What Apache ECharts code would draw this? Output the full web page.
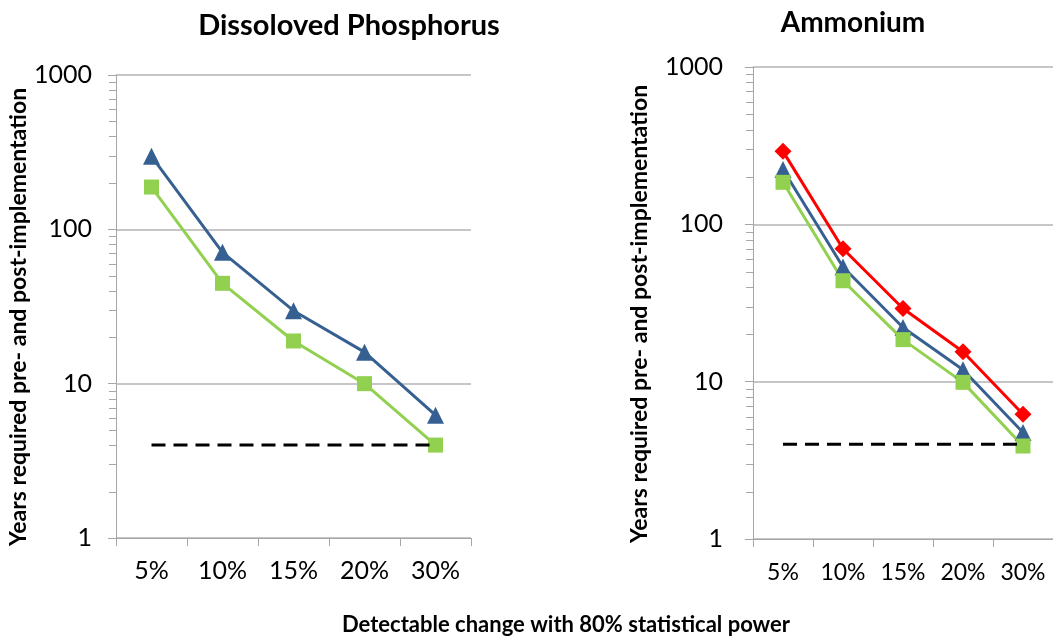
<!DOCTYPE html>
<html>
<head>
<meta charset="utf-8" />
<title>Years required</title>
<script src="https://cdn.jsdelivr.net/npm/echarts@6/dist/echarts.min.js"></script>
<style>
  html, body { margin: 0; padding: 0; background: #fff; }
  #chart { width: 1053px; height: 641px; }
</style>
</head>
<body>
<div id="chart"></div>
<script>
var categories = ['5%', '10%', '15%', '20%', '30%'];

// Dissoloved Phosphorus
var phosBlue = [297, 71, 29.7, 16, 6.25];
var phosGreen = [188, 44.7, 18.9, 10, 4];

// Ammonium
var ammRed = [291, 70, 29.2, 15.5, 6.2];
var ammBlue = [223, 53.6, 22.1, 11.9, 4.75];
var ammGreen = [185, 43.8, 18.5, 9.9, 3.9];

// 4 year reference line
var threshold = [4, 4, 4, 4, 4];

var minorTickValues = [2, 3, 4, 5, 6, 7, 8, 9, 20, 30, 40, 50, 60, 70, 80, 90, 200, 300, 400, 500, 600, 700, 800, 900];

var FONT = 'Lato';
var axisGrey = '#a6a6a6';
var blue = '#376092';
var green = '#92d050';
var red = '#ff0000';
var yTitle = 'Years required pre- and post-implementation';

function xAxisOf(idx, fontSize, margin) {
    return {
        type: 'category', gridIndex: idx, data: categories, boundaryGap: true,
        axisLine: { lineStyle: { color: axisGrey, width: 1 } },
        axisTick: { show: true, length: 8, lineStyle: { color: axisGrey } },
        axisLabel: { color: '#000', fontSize: fontSize, fontFamily: FONT, margin: margin },
        splitLine: { show: false }
    };
}

function yAxisOf(idx, labelMargin) {
    return {
        type: 'log', logBase: 10, gridIndex: idx, min: 1, max: 1000,
        axisLine: { show: true, lineStyle: { color: axisGrey, width: 1 } },
        axisTick: { show: true, length: 8, lineStyle: { color: axisGrey } },
        axisLabel: {
            color: '#000', fontSize: 25, fontFamily: FONT, margin: labelMargin,
            formatter: function (v) { return String(v); }
        },
        splitLine: { show: true, lineStyle: { color: '#b3b3b3', width: 1.5 } },
        minorTick: { show: false }
    };
}

function minorTicks(idx) {
    return {
        type: 'custom', xAxisIndex: idx, yAxisIndex: idx, silent: true, z: 1,
        data: minorTickValues.map(function (v) { return [0, v]; }),
        renderItem: function (params, api) {
            var y = Math.round(api.coord([0, api.value(1)])[1]) + 0.5;
            var x = params.coordSys.x;
            return {
                type: 'line',
                shape: { x1: x - 7, y1: y, x2: x, y2: y },
                style: { stroke: axisGrey, lineWidth: 1 }
            };
        }
    };
}

function lineSeries(idx, data, color, symbol, size, width) {
    return {
        type: 'line', xAxisIndex: idx, yAxisIndex: idx, data: data,
        symbol: symbol, symbolSize: size, showSymbol: true,
        lineStyle: { color: color, width: width },
        itemStyle: { color: color },
        silent: true, animation: false
    };
}

function dashSeries(idx) {
    return {
        type: 'line', xAxisIndex: idx, yAxisIndex: idx, data: threshold,
        symbol: 'none', z: 5,
        lineStyle: { color: '#000', width: 3, type: [14, 8] },
        silent: true, animation: false
    };
}

function textAt(x, y, text, size, rotate) {
    return {
        type: 'text', x: x, y: y, rotation: rotate || 0,
        style: { text: text, fill: '#000', font: 'bold ' + size + 'px ' + FONT, align: 'center', verticalAlign: 'middle' }
    };
}

var chart = echarts.init(document.getElementById('chart'));

chart.setOption({
    animation: false,
    backgroundColor: '#fff',
    grid: [
        { left: 116, top: 75, width: 355, height: 463 },
        { left: 753, top: 67, width: 302, height: 472 }
    ],
    xAxis: [xAxisOf(0, 25, 20), xAxisOf(1, 23, 22)],
    yAxis: [yAxisOf(0, 24), yAxisOf(1, 30)],
    graphic: [
        textAt(349, 26, 'Dissoloved Phosphorus', 29),
        textAt(853, 23, 'Ammonium', 28),
        textAt(566, 625, 'Detectable change with 80% statistical power', 22),
        textAt(19, 317, yTitle, 23, Math.PI / 2),
        textAt(640, 314, yTitle, 23, Math.PI / 2)
    ],
    series: [
        minorTicks(0),
        minorTicks(1),
        lineSeries(0, phosBlue, blue, 'triangle', 17, 3),
        lineSeries(0, phosGreen, green, 'rect', 15, 3),
        dashSeries(0),
        lineSeries(1, ammRed, red, 'diamond', [17, 17], 3),
        lineSeries(1, ammBlue, blue, 'triangle', 17, 3),
        lineSeries(1, ammGreen, green, 'rect', 15, 3),
        dashSeries(1)
    ]
});
</script>
</body>
</html>
